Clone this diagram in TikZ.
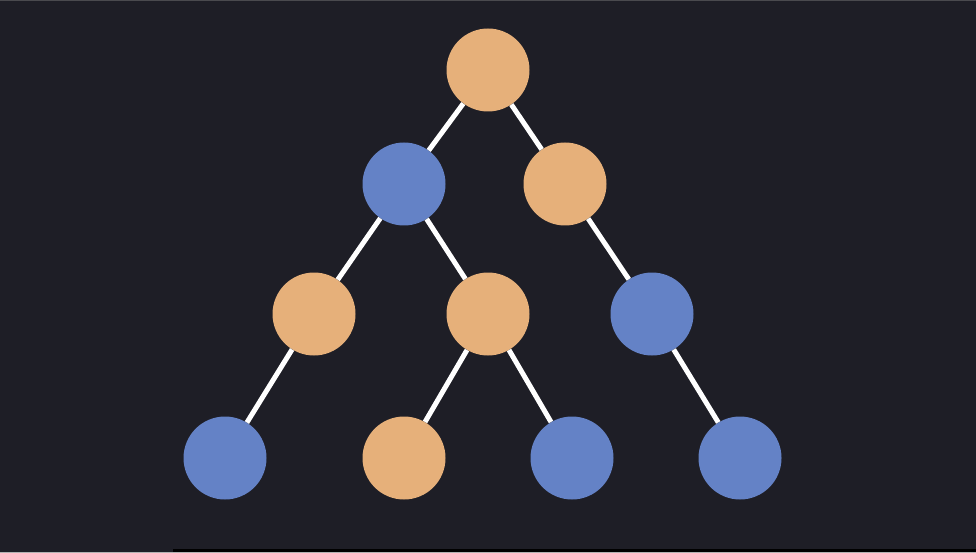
\documentclass[tikz,border=0pt]{standalone}
\definecolor{bg}{HTML}{1E1E26}
\definecolor{orng}{HTML}{E6B07A}
\definecolor{blu}{HTML}{6482C6}
\tikzset{
  vert/.style={circle, minimum size=83pt, inner sep=0pt, draw=none},
  ov/.style={vert, fill=orng},
  bv/.style={vert, fill=blu},
  edge/.style={draw=white, line width=5pt}
}
\begin{document}
\begin{tikzpicture}[x=1pt,y=-1pt]
\fill[bg] (0,0) rectangle (976,553);
\useasboundingbox (0,0) rectangle (976,553);
\fill[gray!45!bg] (0,0) rectangle (976,1.2);
\fill[black] (173,548.5) rectangle (976,551.5);
\fill[gray!60] (0,551.5) rectangle (976,553);
\node[ov] (r) at (488,70) {};
\node[bv] (a) at (404,184) {};
\node[ov] (b) at (565,184) {};
\node[ov] (c) at (314,314) {};
\node[ov] (d) at (488,314) {};
\node[bv] (e) at (652,314) {};
\node[bv] (f) at (225,458) {};
\node[ov] (g) at (404,458) {};
\node[bv] (h) at (572,458) {};
\node[bv] (i) at (740,458) {};
\foreach \u/\v in {r/a,r/b,a/c,a/d,b/e,c/f,d/g,d/h,e/i}
  \path[edge] (\u) -- (\v);
\end{tikzpicture}
\end{document}
